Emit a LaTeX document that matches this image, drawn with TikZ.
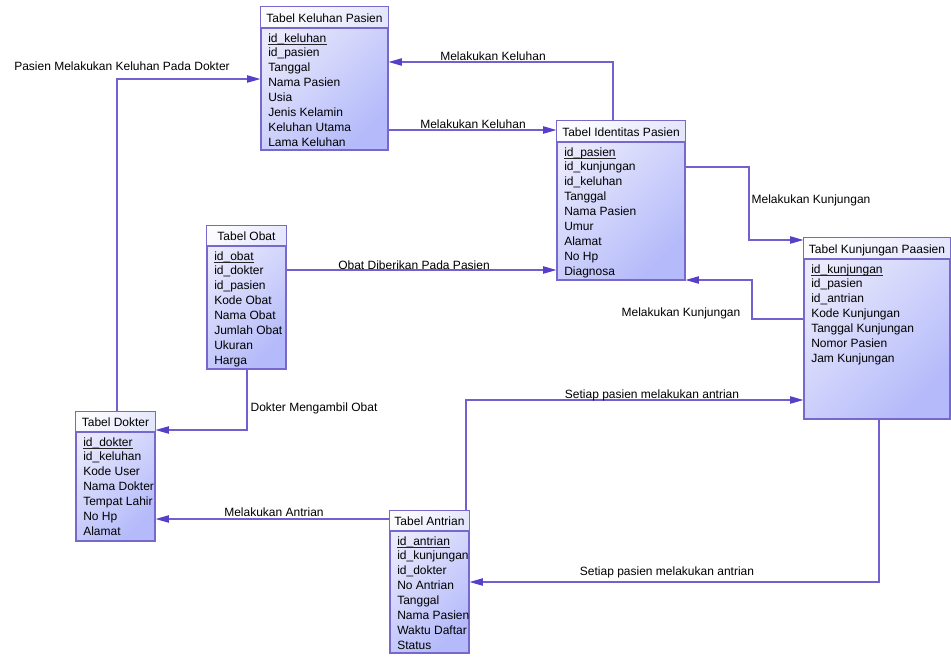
\documentclass[tikz,border=0pt]{standalone}
\usepackage{fontspec}
\setmainfont{Liberation Sans}
\usetikzlibrary{arrows.meta,fit,calc}
\definecolor{linec}{RGB}{112,96,208}
\definecolor{arrc}{RGB}{88,62,200}
\definecolor{boxb}{RGB}{118,104,204}
\definecolor{boxl}{RGB}{234,234,252}
\definecolor{boxd}{RGB}{180,186,250}
\definecolor{hdrl}{RGB}{252,252,255}
\definecolor{hdrd}{RGB}{228,230,252}
\tikzset{
  tbl/.style={draw=boxb, line width=0.9pt, inner sep=0pt, top color=boxl, bottom color=boxd, shading angle=45},
  hdr/.style={top color=hdrl, bottom color=hdrd, shading angle=45},
  ttl/.style={anchor=base, inner sep=0pt, font=\fontsize{9}{11}\selectfont},
  rowt/.style={anchor=base west, inner sep=0pt, font=\fontsize{9}{11}\selectfont},
  lbl/.style={anchor=base, inner sep=0pt, font=\fontsize{9}{11}\selectfont},
  keyline/.style={draw=black!85, line width=0.5pt},
  conn/.style={draw=linec, line width=0.8pt, -{Triangle[length=10pt,width=5.5pt,fill=arrc,color=arrc]}},
}
\newcommand{\ertab}[8]{%
  \node[tbl, fit={(#2,#3) (#4,#5)}] (#1) {};
  \path[hdr] (#2,#3) rectangle (#4,#6);
  \draw[boxb, line width=0.9pt] (#2,#6) -- (#4,#6);
  \draw[boxb, line width=0.9pt] (#1.north west) rectangle (#1.south east);
  \node[ttl] (#1-t) at ({(#2+#4)/2},{(#3+#6)/2+4.5}) {#7};
  \foreach \r [count=\i from 0] in {#8} {
    \node[rowt] (#1-r\i) at ({#2+7},{#6+14+14.9*\i}) {\r};
  }
  \draw[keyline] ($(#1-r0.base west)+(0,2.2)$) -- ($(#1-r0.base east)+(0,2.2)$);
}
\begin{document}
\begin{tikzpicture}[x=0.75pt,y=-0.75pt]
\useasboundingbox[fill=white] (0,0) rectangle (951,657);

\ertab{keluhan}{261}{7}{388}{150}{28}{Tabel Keluhan Pasien}{id\_keluhan,id\_pasien,Tanggal,Nama Pasien,Usia,Jenis Kelamin,Keluhan Utama,Lama Keluhan}
\ertab{identitas}{557}{121}{685}{280}{142}{Tabel Identitas Pasien}{id\_pasien,id\_kunjungan,id\_keluhan,Tanggal,Nama Pasien,Umur,Alamat,No Hp,Diagnosa}
\ertab{kunjungan}{804}{238}{950}{419}{259}{Tabel Kunjungan Paasien}{id\_kunjungan,id\_pasien,id\_antrian,Kode Kunjungan,Tanggal Kunjungan,Nomor Pasien,Jam Kunjungan}
\ertab{obat}{207}{226}{286}{369}{246}{Tabel Obat}{id\_obat,id\_dokter,id\_pasien,Kode Obat,Nama Obat,Jumlah Obat,Ukuran,Harga}
\ertab{dokter}{76}{412}{155}{541}{432}{Tabel Dokter}{id\_dokter,id\_keluhan,Kode User,Nama Dokter,Tempat Lahir,No Hp,Alamat}
\ertab{antrian}{390}{511}{469}{653}{531}{Tabel Antrian}{id\_antrian,id\_kunjungan,id\_dokter,No Antrian,Tanggal,Nama Pasien,Waktu Daftar,Status}

% connectors
\draw[conn] (identitas.north -| 613,0) -- (613,62) -- (keluhan.east |- 0,62);
\draw[conn] (keluhan.east |- 0,130) -- (identitas.west |- 0,130);
\draw[conn] (identitas.east |- 0,167) -- (749,167) -- (749,240) -- (kunjungan.west |- 0,240);
\draw[conn] (kunjungan.west |- 0,319) -- (752,319) -- (752,280) -- (identitas.east |- 0,280);
\draw[conn] (obat.east |- 0,270) -- (identitas.west |- 0,270);
\draw[conn] (obat.south -| 247,0) -- (247,430) -- (dokter.east |- 0,430);
\draw[conn] (dokter.north -| 117,0) -- (117,79) -- (keluhan.west |- 0,79);
\draw[conn] (antrian.west |- 0,519) -- (dokter.east |- 0,519);
\draw[conn] (antrian.north -| 466,0) -- (466,400) -- (kunjungan.west |- 0,400);
\draw[conn] (kunjungan.south -| 879,0) -- (879,582) -- (antrian.east |- 0,582);

% labels
\node[lbl] (l1) at (493,60.5) {Melakukan Keluhan};
\node[lbl] (l2) at (473,128.5) {Melakukan Keluhan};
\node[lbl] (l3) at (811,203.5) {Melakukan Kunjungan};
\node[lbl] (l4) at (681,316.5) {Melakukan Kunjungan};
\node[lbl] (l5) at (414,269.5) {Obat Diberikan Pada Pasien};
\node[lbl] (l6) at (314,411.5) {Dokter Mengambil Obat};
\node[lbl] (l7) at (122,70.5) {Pasien Melakukan Keluhan Pada Dokter};
\node[lbl] (l8) at (274,516.5) {Melakukan Antrian};
\node[lbl] (l9) at (652,398.5) {Setiap pasien melakukan antrian};
\node[lbl] (l10) at (667,575.5) {Setiap pasien melakukan antrian};
\end{tikzpicture}
\end{document}
